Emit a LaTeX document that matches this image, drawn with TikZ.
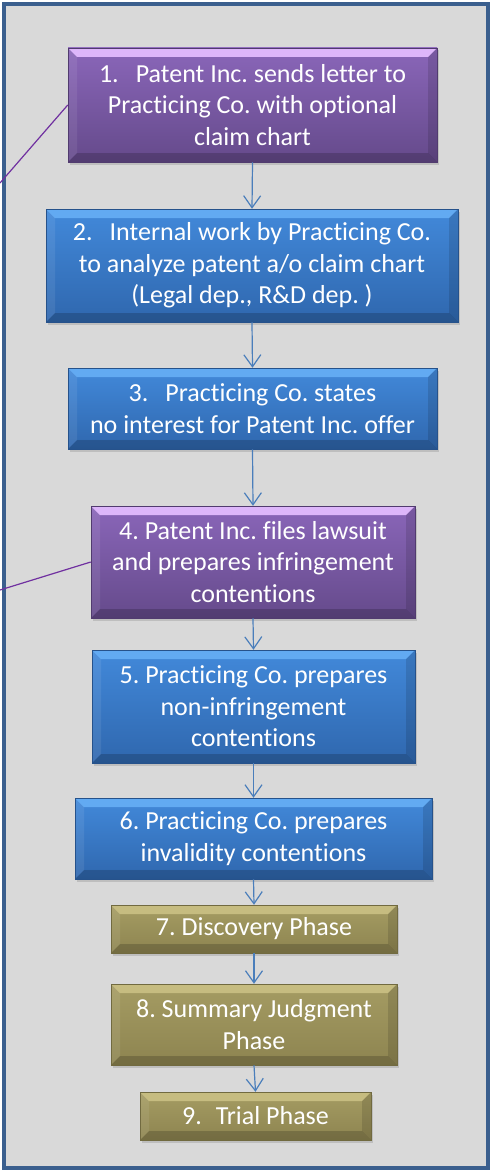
\documentclass[tikz,border=0pt]{standalone}
\usepackage{fontspec}
\setmainfont{Carlito}[Ligatures=NoCommon]
\usepackage{xcolor}
\usetikzlibrary{arrows.meta,shadows}

\definecolor{framebg}{HTML}{D9D9D9}
\definecolor{frameblue}{HTML}{3B5F8E}
\definecolor{purpletop}{HTML}{8A66B9}
\definecolor{purplebot}{HTML}{654A8B}
\definecolor{purplelight}{HTML}{DDB6FA}
\definecolor{bluetop}{HTML}{4289DA}
\definecolor{bluebot}{HTML}{2F67AE}
\definecolor{bluelight}{HTML}{62AAF2}
\definecolor{olivetop}{HTML}{A59C63}
\definecolor{olivebot}{HTML}{8D8450}
\definecolor{olivelight}{HTML}{C6BC80}
\definecolor{arrowblue}{HTML}{4A7EBB}
\definecolor{leadpurple}{HTML}{7030A0}

\tikzset{
  bevel/.style={path picture={
    % light top band, shaded sides and bottom
    \fill[#1] (path picture bounding box.north west) -- (path picture bounding box.north east)
      -- ([shift={(-9pt,-9pt)}]path picture bounding box.north east)
      -- ([shift={(9pt,-9pt)}]path picture bounding box.north west) -- cycle;
    \fill[white,opacity=.08] (path picture bounding box.north west) -- ([shift={(9pt,-9pt)}]path picture bounding box.north west)
      -- ([shift={(9pt,9pt)}]path picture bounding box.south west) -- (path picture bounding box.south west) -- cycle;
    \fill[black,opacity=.12] (path picture bounding box.north east) -- ([shift={(-9pt,-9pt)}]path picture bounding box.north east)
      -- ([shift={(-9pt,9pt)}]path picture bounding box.south east) -- (path picture bounding box.south east) -- cycle;
    \fill[black,opacity=.18] (path picture bounding box.south west) -- ([shift={(9pt,9pt)}]path picture bounding box.south west)
      -- ([shift={(-9pt,9pt)}]path picture bounding box.south east) -- (path picture bounding box.south east) -- cycle;
  }},
  stepbox/.style={rectangle, text=white, align=center, inner sep=0pt,
    font=\fontsize{26}{31.5}\selectfont,
    drop shadow={opacity=.3, shadow xshift=1.5pt, shadow yshift=-2.5pt}},
  purplebox/.style={stepbox, top color=purpletop, bottom color=purplebot,
    draw=purplebot!80!black, line width=.5pt, bevel=purplelight},
  bluebox/.style={stepbox, top color=bluetop, bottom color=bluebot,
    draw=bluebot!80!black, line width=.5pt, bevel=bluelight},
  olivebox/.style={stepbox, top color=olivetop, bottom color=olivebot,
    draw=olivebot!80!black, line width=.5pt, bevel=olivelight},
  flow/.style={draw=arrowblue, line width=1.2pt,
    -{Straight Barb[length=12pt,width=17pt,line width=1.2pt]}},
  lead/.style={draw=leadpurple, line width=1.2pt}
}

\begin{document}
\frenchspacing
\begin{tikzpicture}[x=1pt, y=-1pt]
\useasboundingbox (0,0) rectangle (492,1172);
\draw[line width=4pt, draw=frameblue, fill=framebg] (4,4) rectangle (488,1168);

\node [purplebox, minimum width=369pt, minimum height=114pt] (lettr) at (252.5,105)
  {1.\hspace{17pt}Patent Inc. sends letter to\\ Practicing Co. with optional\\ claim chart};
\node [bluebox, minimum width=412pt, minimum height=113pt] (intwork) at (252,265.5)
  {2.\hspace{17pt}Internal work by Practicing Co.\\ to analyze patent a/o claim chart\\ (Legal dep., R\&D dep. )};
\node [bluebox, minimum width=369pt, minimum height=81pt] (nointr) at (252.5,408.5)
  {3.\hspace{17pt}Practicing Co. states\\ no interest for Patent Inc. offer};
\node [purplebox, minimum width=324pt, minimum height=112pt] (lawsuit) at (253,562)
  {4. Patent Inc. files lawsuit\\ and prepares infringement\\ contentions};
\node [bluebox, minimum width=323pt, minimum height=113pt] (noninf) at (253.5,706.5)
  {5. Practicing Co. prepares\\ non-infringement\\ contentions};
\node [bluebox, minimum width=357pt, minimum height=81pt] (invalid) at (253.5,838.5)
  {6. Practicing Co. prepares\\ invalidity contentions};
\node [olivebox, minimum width=286pt, minimum height=48pt] (discov) at (254,929)
  {7. Discovery Phase};
\node [olivebox, minimum width=286pt, minimum height=81pt] (summary) at (254,1024.5)
  {8. Summary Judgment\\ Phase};
\node [olivebox, minimum width=231pt, minimum height=48pt] (trial) at (255.5,1116)
  {9.\hspace{14pt}Trial Phase};

% step to step
\draw[flow] (lettr.south) -- (intwork.north);
\draw[flow] (intwork.south) -- (nointr.north);
\draw[flow] (nointr.south) -- (lawsuit.north);
\draw[flow] (lawsuit.south) -- (noninf.north);
\draw[flow] (noninf.south) -- (invalid.north);
\draw[flow] (invalid.south) -- (discov.north);
\draw[flow] (discov.south) -- (summary.north);
\draw[flow] (summary.south) -- (trial.north);

% leads running off the left edge
\coordinate (leadA) at (0,183);
\coordinate (leadB) at (0,590);
\draw[lead] (leadA) -- (lettr.west);
\draw[lead] (leadB) -- (lawsuit.west);
\end{tikzpicture}
\end{document}
